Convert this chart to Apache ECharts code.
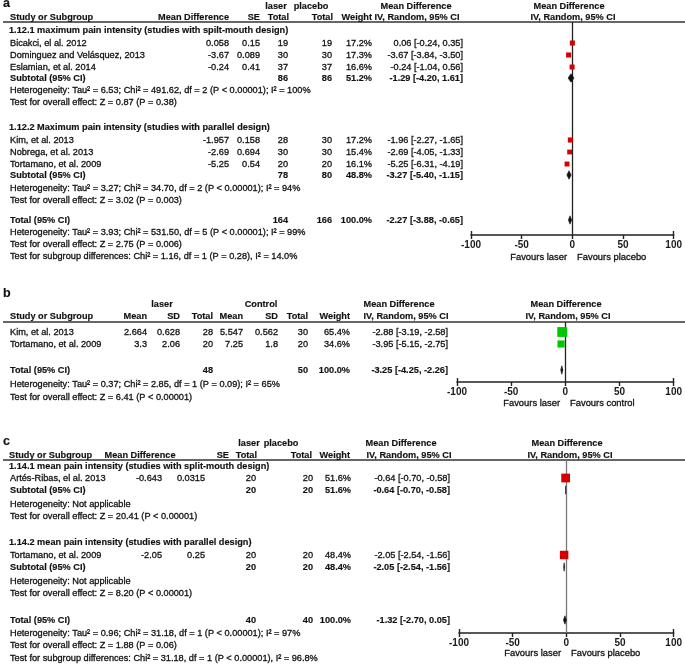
<!DOCTYPE html>
<html><head><meta charset="utf-8">
<script src="https://cdn.jsdelivr.net/npm/echarts@6/dist/echarts.min.js"></script>
<style>html,body{margin:0;padding:0;background:#fff}#chart{width:685px;height:666px}</style>
</head><body><div id="chart"></div>
<script>
// ---------- Panel a data ----------
const aGroupTitles = ['1.12.1 maximum pain intensity (studies with spilt-mouth design)', '1.12.2 Maximum pain intensity (studies with parallel design)'];
const aStudies = ['Bicakci, el al. 2012', 'Dominguez and Velásquez, 2013', 'Eslamian, et al. 2014', 'Kim, et al. 2013', 'Nobrega, et al. 2013', 'Tortamano, et al. 2009'];
const aMD = ['0.058', '-3.67', '-0.24', '-1.957', '-2.69', '-5.25'];
const aSE = ['0.15', '0.089', '0.41', '0.158', '0.694', '0.54'];
const aLaserN = [19, 30, 37, 28, 30, 20];
const aPlaceboN = [19, 30, 37, 30, 30, 20];
const aWeight = [17.2, 17.3, 16.6, 17.2, 15.4, 16.1];
const aEst = [0.06, -3.67, -0.24, -1.96, -2.69, -5.25];
const aLo = [-0.24, -3.84, -1.04, -2.27, -4.05, -6.31];
const aHi = [0.35, -3.50, 0.56, -1.65, -1.33, -4.19];
const aSubLaserN = [86, 78];
const aSubPlaceboN = [86, 80];
const aSubWeight = [51.2, 48.8];
const aSubEst = [-1.29, -3.27];
const aSubLo = [-4.20, -5.40];
const aSubHi = [1.61, -1.15];
const aSubHet = ['Heterogeneity: Tau\u00b2 = 6.53; Chi\u00b2 = 491.62, df = 2 (P < 0.00001); I\u00b2 = 100%', 'Heterogeneity: Tau\u00b2 = 3.27; Chi\u00b2 = 34.70, df = 2 (P < 0.00001); I\u00b2 = 94%'];
const aSubZ = ['Test for overall effect: Z = 0.87 (P = 0.38)', 'Test for overall effect: Z = 3.02 (P = 0.003)'];
const aTotalN = [164, 166];
const aTotalCI = [-2.27, -3.88, -0.65];
const aTotalLines = ['Heterogeneity: Tau\u00b2 = 3.93; Chi\u00b2 = 531.50, df = 5 (P < 0.00001); I\u00b2 = 99%', 'Test for overall effect: Z = 2.75 (P = 0.006)', 'Test for subgroup differences: Chi\u00b2 = 1.16, df = 1 (P = 0.28), I\u00b2 = 14.0%'];

// ---------- Panel b data ----------
const bStudies = ['Kim, et al. 2013', 'Tortamano, et al. 2009'];
const bLaserMean = ['2.664', '3.3'];
const bLaserSD = ['0.628', '2.06'];
const bLaserN = [28, 20];
const bCtrlMean = ['5.547', '7.25'];
const bCtrlSD = ['0.562', '1.8'];
const bCtrlN = [30, 20];
const bWeight = [65.4, 34.6];
const bEst = [-2.88, -3.95];
const bLo = [-3.19, -5.15];
const bHi = [-2.58, -2.75];
const bTotalN = [48, 50];
const bTotalCI = [-3.25, -4.25, -2.26];
const bTotalLines = ['Heterogeneity: Tau\u00b2 = 0.37; Chi\u00b2 = 2.85, df = 1 (P = 0.09); I\u00b2 = 65%', 'Test for overall effect: Z = 6.41 (P < 0.00001)'];

// ---------- Panel c data ----------
const cGroupTitles = ['1.14.1 mean pain intensity (studies with split-mouth design)', '1.14.2 mean pain intensity (studies with parallel design)'];
const cStudies = ['Art\u00e9s-Ribas, el al. 2013', 'Tortamano, et al. 2009'];
const cMD = ['-0.643', '-2.05'];
const cSE = ['0.0315', '0.25'];
const cLaserN = [20, 20];
const cPlaceboN = [20, 20];
const cWeight = [51.6, 48.4];
const cEst = [-0.64, -2.05];
const cLo = [-0.70, -2.54];
const cHi = [-0.58, -1.56];
const cSubEst = [-0.64, -2.05];
const cSubLo = [-0.70, -2.54];
const cSubHi = [-0.58, -1.56];
const cSubHet = ['Heterogeneity: Not applicable', 'Heterogeneity: Not applicable'];
const cSubZ = ['Test for overall effect: Z = 20.41 (P < 0.00001)', 'Test for overall effect: Z = 8.20 (P < 0.00001)'];
const cTotalN = [40, 40];
const cTotalCI = [-1.32, -2.70, 0.05];
const cTotalLines = ['Heterogeneity: Tau\u00b2 = 0.96; Chi\u00b2 = 31.18, df = 1 (P < 0.00001); I\u00b2 = 97%', 'Test for overall effect: Z = 1.88 (P = 0.06)', 'Test for subgroup differences: Chi\u00b2 = 31.18, df = 1 (P < 0.00001), I\u00b2 = 96.8%'];

const axisTicks = [-100, -50, 0, 50, 100];

// ---------- layout ----------
const FONT = '"Liberation Sans", Arial, Helvetica, sans-serif';
const FS = 9.2;
const TXT = '#111';
const G = [];
function T(x, y, text, align, bold, size, color) {
  G.push({ type: 'text', x: x, y: y, silent: true, z: 10,
    style: { text: String(text), font: (bold ? 'bold ' : '') + (size || FS) + 'px ' + FONT,
      fill: color || TXT, stroke: color || TXT, lineWidth: bold ? 0.15 : 0.3,
      align: align || 'left', verticalAlign: 'middle' } });
}
function HL(y) {
  G.push({ type: 'line', silent: true, shape: { x1: 3, y1: y, x2: 685, y2: y },
    style: { stroke: '#333', lineWidth: 1.5 } });
}
const ci = (e, l, h) => e.toFixed(2) + ' [' + l.toFixed(2) + ', ' + h.toFixed(2) + ']';
const pct = w => w.toFixed(1) + '%';

// Panel layouts (pixel rows)
const LA = { upper: 6, head: 17, rule: 22, titles: [30, 127], rows: [[43, 55, 67], [140, 152, 164]], subs: [78, 175],
  het: [90, 188], z: [102, 200], total: 220, totLines: [232, 244, 256], axisY: 235, x0: 471, x1: 675, fav: 257 };
const LB = { upper: 304, head: 316, rule: 322, rows: [332, 344], total: 370, totLines: [384, 397], axisY: 382, x0: 457, x1: 675, fav: 403 };
const LC = { upper: 443, head: 455, rule: 460, titles: [466, 542], rows: [[478], [555]], subs: [490, 567],
  het: [504, 581], z: [516, 593], total: 620, totLines: [633, 645, 658], axisY: 633, x0: 459, x1: 675, fav: 653 };

// ---- Panel a text ----
T(3, 4, 'a', 'left', true, 12.5);
T(276, LA.upper, 'laser', 'center', true);
T(311, LA.upper, 'placebo', 'center', true);
T(416, LA.upper, 'Mean Difference', 'center', true);
T(569, LA.upper, 'Mean Difference', 'center', true);
T(10, LA.head, 'Study or Subgroup', 'left', true);
T(229, LA.head, 'Mean Difference', 'right', true);
T(260, LA.head, 'SE', 'right', true);
T(289, LA.head, 'Total', 'right', true);
T(333, LA.head, 'Total', 'right', true);
T(372, LA.head, 'Weight', 'right', true);
T(417, LA.head, 'IV, Random, 95% CI', 'center', true);
T(573, LA.head, 'IV, Random, 95% CI', 'center', true);
HL(LA.rule);
const aStudyData = [], aDiaData = [];
for (let g = 0; g < 2; g++) {
  T(9, LA.titles[g], aGroupTitles[g], 'left', true);
  for (let k = 0; k < 3; k++) {
    const i = g * 3 + k, y = LA.rows[g][k];
    T(10, y, aStudies[i]); T(229, y, aMD[i], 'right'); T(260, y, aSE[i], 'right');
    T(288, y, aLaserN[i], 'right'); T(332, y, aPlaceboN[i], 'right'); T(372, y, pct(aWeight[i]), 'right');
    T(463, y, ci(aEst[i], aLo[i], aHi[i]), 'right');
    aStudyData.push([aEst[i], y, aLo[i], aHi[i], aWeight[i]]);
  }
  const ys = LA.subs[g];
  T(10, ys, 'Subtotal (95% CI)', 'left', true); T(288, ys, aSubLaserN[g], 'right', true); T(332, ys, aSubPlaceboN[g], 'right', true);
  T(372, ys, pct(aSubWeight[g]), 'right', true); T(463, ys, ci(aSubEst[g], aSubLo[g], aSubHi[g]), 'right', true);
  aDiaData.push([aSubEst[g], ys, aSubLo[g], aSubHi[g]]);
  T(10, LA.het[g], aSubHet[g]); T(10, LA.z[g], aSubZ[g]);
}
T(10, LA.total, 'Total (95% CI)', 'left', true); T(288, LA.total, aTotalN[0], 'right', true); T(332, LA.total, aTotalN[1], 'right', true);
T(372, LA.total, '100.0%', 'right', true); T(463, LA.total, ci(aTotalCI[0], aTotalCI[1], aTotalCI[2]), 'right', true);
aDiaData.push([aTotalCI[0], LA.total, aTotalCI[1], aTotalCI[2]]);
aTotalLines.forEach((s, j) => T(10, LA.totLines[j], s));

// ---- Panel b text ----
T(3, 294, 'b', 'left', true, 12.5);
T(162, LB.upper, 'laser', 'center', true);
T(261, LB.upper, 'Control', 'center', true);
T(399, LB.upper, 'Mean Difference', 'center', true);
T(566, LB.upper, 'Mean Difference', 'center', true);
T(10, LB.head, 'Study or Subgroup', 'left', true);
T(147, LB.head, 'Mean', 'right', true); T(180, LB.head, 'SD', 'right', true); T(213, LB.head, 'Total', 'right', true);
T(243, LB.head, 'Mean', 'right', true); T(278, LB.head, 'SD', 'right', true); T(308, LB.head, 'Total', 'right', true);
T(350, LB.head, 'Weight', 'right', true);
T(406, LB.head, 'IV, Random, 95% CI', 'center', true);
T(568, LB.head, 'IV, Random, 95% CI', 'center', true);
HL(LB.rule);
const bStudyData = [], bDiaData = [];
for (let i = 0; i < 2; i++) {
  const y = LB.rows[i];
  T(10, y, bStudies[i]); T(147, y, bLaserMean[i], 'right'); T(180, y, bLaserSD[i], 'right'); T(213, y, bLaserN[i], 'right');
  T(243, y, bCtrlMean[i], 'right'); T(278, y, bCtrlSD[i], 'right'); T(308, y, bCtrlN[i], 'right');
  T(350, y, pct(bWeight[i]), 'right'); T(448, y, ci(bEst[i], bLo[i], bHi[i]), 'right');
  bStudyData.push([bEst[i], y, bLo[i], bHi[i], bWeight[i]]);
}
T(10, LB.total, 'Total (95% CI)', 'left', true); T(213, LB.total, bTotalN[0], 'right', true); T(308, LB.total, bTotalN[1], 'right', true);
T(350, LB.total, '100.0%', 'right', true); T(448, LB.total, ci(bTotalCI[0], bTotalCI[1], bTotalCI[2]), 'right', true);
bDiaData.push([bTotalCI[0], LB.total, bTotalCI[1], bTotalCI[2]]);
bTotalLines.forEach((s, j) => T(10, LB.totLines[j], s));

// ---- Panel c text ----
T(3, 442, 'c', 'left', true, 12.5);
T(249, LC.upper, 'laser', 'center', true);
T(281, LC.upper, 'placebo', 'center', true);
T(401, LC.upper, 'Mean Difference', 'center', true);
T(567, LC.upper, 'Mean Difference', 'center', true);
T(9, LC.head, 'Study or Subgroup', 'left', true);
T(140, LC.head, 'Mean Difference', 'center', true);
T(229, LC.head, 'SE', 'right', true);
T(257, LC.head, 'Total', 'right', true);
T(312, LC.head, 'Total', 'right', true);
T(350, LC.head, 'Weight', 'right', true);
T(409, LC.head, 'IV, Random, 95% CI', 'center', true);
T(570, LC.head, 'IV, Random, 95% CI', 'center', true);
HL(LC.rule);
const cStudyData = [], cDiaData = [];
for (let g = 0; g < 2; g++) {
  T(9, LC.titles[g], cGroupTitles[g], 'left', true);
  const y = LC.rows[g][0];
  T(10, y, cStudies[g]); T(162, y, cMD[g], 'right'); T(205, y, cSE[g], 'right');
  T(256, y, cLaserN[g], 'right'); T(313, y, cPlaceboN[g], 'right'); T(351, y, pct(cWeight[g]), 'right');
  T(450, y, ci(cEst[g], cLo[g], cHi[g]), 'right');
  cStudyData.push([cEst[g], y, cLo[g], cHi[g], cWeight[g]]);
  const ys = LC.subs[g];
  T(10, ys, 'Subtotal (95% CI)', 'left', true); T(256, ys, cLaserN[g], 'right', true); T(313, ys, cPlaceboN[g], 'right', true);
  T(351, ys, pct(cWeight[g]), 'right', true); T(450, ys, ci(cSubEst[g], cSubLo[g], cSubHi[g]), 'right', true);
  cDiaData.push([cSubEst[g], ys, cSubLo[g], cSubHi[g]]);
  T(10, LC.het[g], cSubHet[g]); T(10, LC.z[g], cSubZ[g]);
}
T(10, LC.total, 'Total (95% CI)', 'left', true); T(256, LC.total, cTotalN[0], 'right', true); T(313, LC.total, cTotalN[1], 'right', true);
T(351, LC.total, '100.0%', 'right', true); T(450, LC.total, ci(cTotalCI[0], cTotalCI[1], cTotalCI[2]), 'right', true);
cDiaData.push([cTotalCI[0], LC.total, cTotalCI[1], cTotalCI[2]]);
cTotalLines.forEach((s, j) => T(10, LC.totLines[j], s));

// ---- Favours labels ----
function fav(L, right) {
  const zx = (L.x0 + L.x1) / 2;
  T(zx - 6, L.fav, 'Favours laser', 'right', false, 9.4);
  T(zx + 4, L.fav, right, 'left', false, 9.4);
}
fav(LA, 'Favours placebo'); fav(LB, 'Favours control'); fav(LC, 'Favours placebo');

// ---------- chart ----------
const panels = [LA, LB, LC];
const grids = panels.map(L => ({ left: L.x0, width: L.x1 - L.x0, top: L.rule, height: L.axisY - L.rule, containLabel: false }));
const xAxes = [], yAxes = [];
panels.forEach((L, i) => {
  xAxes.push({ gridIndex: i, type: 'value', min: -100, max: 100, interval: 50, position: 'bottom',
    axisLine: { show: true, onZero: false, lineStyle: { color: '#222', width: 1.6 } },
    axisTick: { show: true, length: 4, lineStyle: { color: '#222', width: 1.4 } },
    axisLabel: { show: true, margin: 5, fontSize: 10, fontWeight: 'bold', color: '#1a1a1a', fontFamily: FONT,
      formatter: v => (axisTicks.indexOf(v) >= 0 ? String(v) : '') },
    splitLine: { show: false } });
  yAxes.push({ gridIndex: i, type: 'value', inverse: true, min: L.rule, max: L.axisY, show: false });
});
// end caps above the axis line
panels.forEach((L, i) => {
  xAxes.push({ gridIndex: i, type: 'value', min: -100, max: 100, position: 'bottom',
    axisLine: { show: false }, axisLabel: { show: false }, splitLine: { show: false },
    axisTick: { show: true, inside: true, length: 4, customValues: [-100, 100], lineStyle: { color: '#222', width: 1.4 } } });
});

function studyRender(color) {
  return function (params, api) {
    const y = api.value(1);
    const p = api.coord([api.value(0), y]);
    const pl = api.coord([api.value(2), y]);
    const ph = api.coord([api.value(3), y]);
    const s = 1.22 * Math.sqrt(api.value(4));
    return { type: 'group', children: [
      { type: 'line', shape: { x1: pl[0], y1: p[1], x2: ph[0], y2: p[1] }, style: { stroke: '#111', lineWidth: 1 } },
      { type: 'rect', shape: { x: p[0] - s / 2, y: p[1] - s / 2, width: s, height: s }, style: { fill: color } }
    ] };
  };
}
function diamondRender(params, api) {
  const y = api.value(1);
  const p = api.coord([api.value(0), y]);
  const pl = api.coord([api.value(2), y]);
  const ph = api.coord([api.value(3), y]);
  const h = 4.2;
  return { type: 'polygon', shape: { points: [[pl[0], p[1]], [p[0], p[1] - h], [ph[0], p[1]], [p[0], p[1] + h]] },
    style: { fill: '#111', stroke: '#111', lineWidth: 0.6 } };
}
const series = [];
const studySets = [[aStudyData, '#d40000'], [bStudyData, '#00c800'], [cStudyData, '#d40000']];
const diaSets = [aDiaData, bDiaData, cDiaData];
const zeroColors = ['#222', '#222', '#777'];
panels.forEach((L, i) => {
  series.push({ type: 'custom', xAxisIndex: i, yAxisIndex: i, data: studySets[i][0], renderItem: studyRender(studySets[i][1]),
    encode: { x: [0, 2, 3], y: 1 }, clip: false, silent: true, z: 5,
    markLine: { silent: true, symbol: ['none', 'none'], label: { show: false }, animation: false,
      lineStyle: { color: zeroColors[i], width: 1.3, type: 'solid' }, data: [{ xAxis: 0 }] } });
  series.push({ type: 'custom', xAxisIndex: i, yAxisIndex: i, data: diaSets[i], renderItem: diamondRender,
    encode: { x: [0, 2, 3], y: 1 }, clip: false, silent: true, z: 6 });
});

const chart = echarts.init(document.getElementById('chart'), null, { renderer: 'canvas' });
chart.setOption({
  animation: false,
  backgroundColor: '#fff',
  grid: grids,
  xAxis: xAxes,
  yAxis: yAxes,
  series: series,
  graphic: { elements: G }
});
</script>
</body></html>
